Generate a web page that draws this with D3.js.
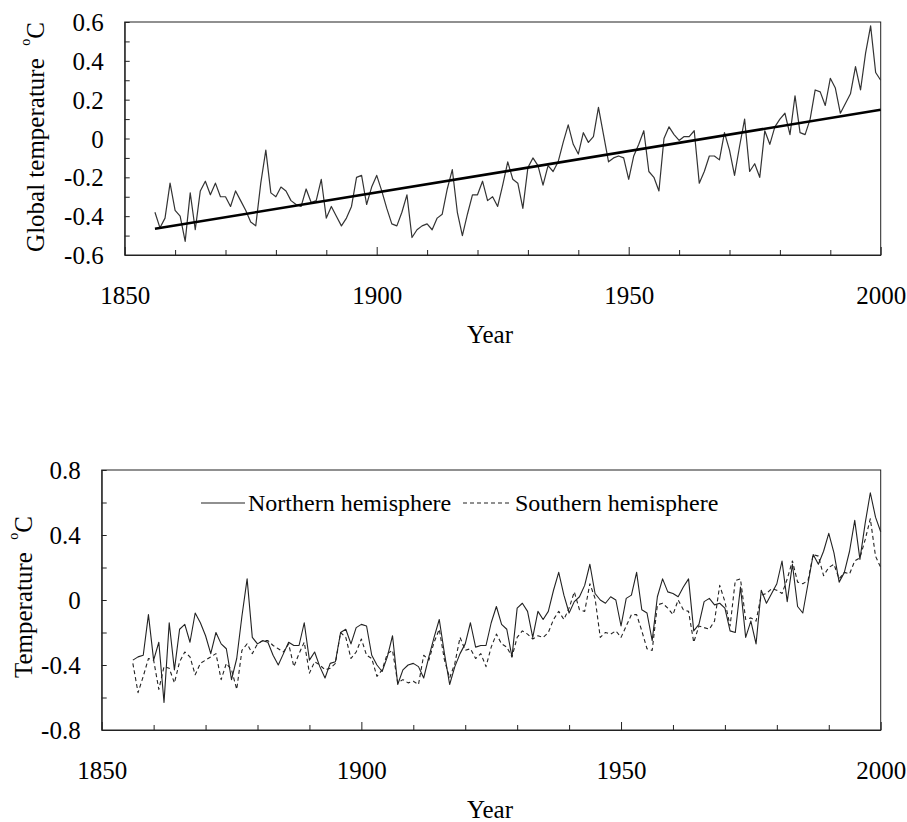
<!DOCTYPE html>
<html>
<head>
<meta charset="utf-8">
<script src="https://cdn.jsdelivr.net/npm/d3@7"></script>
<style>
  body { margin: 0; background: #fff; }
  svg { display: block; }
  svg text { font-family: "Liberation Serif", "Times New Roman", serif !important; fill: #000; }
</style>
</head>
<body>
<div id="chart"></div>
<script>
// annual anomalies, 1856..2000
var firstYear = 1856;

var globalTemp = [
  -0.38, -0.46, -0.41, -0.23, -0.37, -0.40, -0.53, -0.28, -0.47, -0.27,
  -0.22, -0.29, -0.23, -0.30, -0.30, -0.35, -0.27, -0.32, -0.37, -0.43,
  -0.45, -0.23, -0.06, -0.28, -0.30, -0.25, -0.27, -0.32, -0.34, -0.35,
  -0.26, -0.33, -0.32, -0.21, -0.41, -0.35, -0.40, -0.45, -0.41, -0.35,
  -0.20, -0.19, -0.34, -0.25, -0.19, -0.27, -0.36, -0.44, -0.45, -0.38,
  -0.29, -0.51, -0.47, -0.45, -0.44, -0.47, -0.41, -0.39, -0.26, -0.16,
  -0.38, -0.50, -0.39, -0.29, -0.29, -0.22, -0.32, -0.30, -0.35, -0.24,
  -0.12, -0.21, -0.23, -0.36, -0.15, -0.10, -0.14, -0.24, -0.14, -0.17,
  -0.12, -0.02, 0.07, -0.03, -0.08, 0.03, -0.02, 0.01, 0.16, 0.02,
  -0.12, -0.10, -0.09, -0.10, -0.21, -0.09, -0.03, 0.04, -0.17, -0.20,
  -0.27, 0.00, 0.06, 0.02, -0.01, 0.01, 0.01, 0.04, -0.23, -0.17,
  -0.09, -0.09, -0.11, 0.03, -0.06, -0.19, -0.04, 0.10, -0.17, -0.13,
  -0.20, 0.04, -0.03, 0.06, 0.10, 0.13, 0.02, 0.22, 0.03, 0.02,
  0.10, 0.25, 0.24, 0.17, 0.31, 0.26, 0.13, 0.18, 0.23, 0.37,
  0.25, 0.44, 0.58, 0.34, 0.30
];

var trendYears = [1856, 2000];
var trendTemp = [-0.465, 0.148];

var northTemp = [
  -0.37, -0.35, -0.34, -0.09, -0.37, -0.26, -0.63, -0.14, -0.43, -0.18,
  -0.15, -0.26, -0.08, -0.14, -0.22, -0.33, -0.20, -0.27, -0.30, -0.49,
  -0.36, -0.10, 0.13, -0.23, -0.27, -0.25, -0.26, -0.34, -0.40, -0.33,
  -0.26, -0.28, -0.28, -0.14, -0.37, -0.32, -0.41, -0.48, -0.39, -0.38,
  -0.20, -0.18, -0.27, -0.17, -0.15, -0.16, -0.34, -0.40, -0.44, -0.35,
  -0.22, -0.52, -0.43, -0.40, -0.39, -0.41, -0.48, -0.35, -0.23, -0.12,
  -0.33, -0.52, -0.41, -0.33, -0.27, -0.14, -0.29, -0.28, -0.28, -0.14,
  -0.04, -0.15, -0.18, -0.35, -0.05, -0.02, -0.07, -0.23, -0.07, -0.12,
  -0.07, 0.06, 0.17, 0.03, -0.08, -0.01, 0.02, 0.09, 0.22, 0.04,
  0.00, -0.02, 0.02, 0.00, -0.16, 0.01, 0.03, 0.17, -0.06, -0.08,
  -0.25, 0.02, 0.13, 0.05, 0.04, 0.02, 0.08, 0.13, -0.19, -0.15,
  -0.01, 0.01, -0.03, -0.02, -0.05, -0.19, -0.20, 0.08, -0.23, -0.13,
  -0.27, 0.06, -0.02, 0.04, 0.10, 0.24, -0.01, 0.22, -0.04, -0.08,
  0.10, 0.28, 0.22, 0.30, 0.41, 0.29, 0.11, 0.17, 0.30, 0.49,
  0.25, 0.47, 0.66, 0.51, 0.42
];

var southTemp = [
  -0.39, -0.57, -0.47, -0.36, -0.37, -0.55, -0.41, -0.42, -0.51, -0.38,
  -0.32, -0.35, -0.46, -0.39, -0.37, -0.35, -0.33, -0.49, -0.39, -0.43,
  -0.55, -0.31, -0.27, -0.33, -0.27, -0.25, -0.25, -0.28, -0.30, -0.32,
  -0.27, -0.41, -0.33, -0.26, -0.45, -0.38, -0.40, -0.43, -0.42, -0.39,
  -0.20, -0.23, -0.36, -0.32, -0.24, -0.34, -0.36, -0.47, -0.43, -0.33,
  -0.31, -0.51, -0.49, -0.51, -0.50, -0.52, -0.34, -0.37, -0.26, -0.18,
  -0.37, -0.48, -0.39, -0.23, -0.31, -0.30, -0.36, -0.33, -0.41, -0.29,
  -0.21, -0.27, -0.29, -0.35, -0.23, -0.19, -0.21, -0.24, -0.22, -0.23,
  -0.20, -0.12, -0.07, -0.12, -0.05, 0.05, -0.06, -0.07, 0.10, 0.01,
  -0.23, -0.20, -0.21, -0.19, -0.23, -0.16, -0.09, -0.09, -0.19, -0.30,
  -0.31, -0.03, -0.02, -0.05, -0.09, 0.00, -0.06, -0.07, -0.26, -0.16,
  -0.17, -0.18, -0.13, 0.09, -0.01, -0.16, 0.12, 0.13, -0.12, -0.11,
  -0.13, 0.03, 0.04, 0.07, 0.06, 0.04, 0.13, 0.24, 0.11, 0.10,
  0.12, 0.28, 0.27, 0.15, 0.20, 0.22, 0.13, 0.17, 0.16, 0.24,
  0.26, 0.37, 0.50, 0.27, 0.20
];

var yearTicks = [1850, 1900, 1950, 2000];
var yearMinorTicks = [1860, 1870, 1880, 1890, 1910, 1920, 1930, 1940, 1960, 1970, 1980, 1990];
var topTicks = [-0.6, -0.4, -0.2, 0, 0.2, 0.4, 0.6];
var topMinorTicks = [-0.5, -0.3, -0.1, 0.1, 0.3, 0.5];
var bottomTicks = [-0.8, -0.4, 0, 0.4, 0.8];
var bottomMinorTicks = [-0.6, -0.2, 0.2, 0.6];

var width = 907, height = 822;
var fontSize = 25;
var legendFontSize = 24;
var serif = "'Liberation Serif', 'Times New Roman', serif";

var svg = d3.select("#chart").append("svg")
    .attr("width", width)
    .attr("height", height);

function asPoints(values) {
    return values.map(function (v, i) { return { year: firstYear + i, value: v }; });
}

function fmt(d) {
    return d === 0 ? "0" : d3.format(".1f")(d).replace("\u2212", "-");
}

function drawPanel(p) {
    var x = d3.scaleLinear().domain([1850, 2000]).range([p.left, p.right]);
    var y = d3.scaleLinear().domain(p.yDomain).range([p.bottom, p.top]);

    var g = svg.append("g");

    // minor ticks first, no labels
    g.append("g")
        .attr("transform", "translate(0," + p.bottom + ")")
        .call(d3.axisBottom(x).tickValues(yearMinorTicks).tickSizeInner(-5).tickSizeOuter(0).tickFormat(""))
        .call(function (a) { a.select(".domain").remove(); });

    var xAxis = g.append("g")
        .attr("transform", "translate(0," + p.bottom + ")")
        .call(d3.axisBottom(x).tickValues(yearTicks).tickSizeInner(-8).tickSizeOuter(0)
            .tickPadding(31).tickFormat(d3.format("d")));

    g.append("g")
        .attr("transform", "translate(" + p.left + ",0)")
        .call(d3.axisLeft(y).tickValues(p.minorTicks).tickSizeInner(-5).tickSizeOuter(0).tickFormat(""))
        .call(function (a) { a.select(".domain").remove(); });

    var yAxis = g.append("g")
        .attr("transform", "translate(" + p.left + ",0)")
        .call(d3.axisLeft(y).tickValues(p.ticks).tickSizeInner(-5).tickSizeOuter(0)
            .tickPadding(21).tickFormat(fmt));

    g.selectAll(".tick line").attr("stroke", "#222");
    g.selectAll(".domain").attr("stroke", "#222");
    [xAxis, yAxis].forEach(function (a) {
        a.attr("font-family", null).attr("font-size", null);
        a.selectAll("text")
            .style("font-family", serif)
            .style("font-size", fontSize + "px")
            .attr("fill", "#000");
    });
    yAxis.selectAll("text").attr("dy", "0.34em");

    // frame
    g.append("rect")
        .attr("x", p.left).attr("y", p.top)
        .attr("width", p.right - p.left).attr("height", p.bottom - p.top)
        .attr("fill", "none").attr("stroke", "#222").attr("stroke-width", 1);

    var line = d3.line()
        .x(function (d) { return x(d.year); })
        .y(function (d) { return y(d.value); });

    p.series.forEach(function (s) {
        g.append("path")
            .datum(s.data)
            .attr("fill", "none")
            .attr("stroke", s.color)
            .attr("stroke-width", s.width)
            .attr("stroke-dasharray", s.dash || null)
            .attr("stroke-linejoin", "round")
            .attr("d", line);
    });

    // x title
    g.append("text")
        .attr("x", 490).attr("y", p.bottom + 88)
        .attr("text-anchor", "middle")
        .style("font-size", fontSize + "px")
        .text("Year");

    // y title with superscript degree
    var yt = g.append("text")
        .attr("transform", "translate(" + p.titleX + "," + p.titleY + ") rotate(-90)")
        .attr("text-anchor", "middle")
        .style("font-size", fontSize + "px");
    yt.append("tspan").text(p.yTitle + "\u00a0\u00a0");
    yt.append("tspan").style("font-size", "14px").attr("dy", -14).text("o");
    yt.append("tspan").attr("dy", 14).text("C");

    return { x: x, y: y, g: g };
}

drawPanel({
    left: 124.7, right: 880.7, top: 22, bottom: 255,
    yDomain: [-0.6, 0.6], ticks: topTicks, minorTicks: topMinorTicks,
    yTitle: "Global temperature", titleX: 44, titleY: 137,
    series: [
        { data: asPoints(globalTemp), color: "#333", width: 1.2 },
        { data: trendYears.map(function (yr, i) { return { year: yr, value: trendTemp[i] }; }),
          color: "#000", width: 2.6 }
    ]
});

var bottomPanel = drawPanel({
    left: 101.7, right: 880.7, top: 470, bottom: 730,
    yDomain: [-0.8, 0.8], ticks: bottomTicks, minorTicks: bottomMinorTicks,
    yTitle: "Temperature", titleX: 32, titleY: 597,
    series: [
        { data: asPoints(northTemp), color: "#222", width: 1.1 },
        { data: asPoints(southTemp), color: "#222", width: 1.1, dash: "4,3" }
    ]
});

// legend
var legendItems = [
    { label: "Northern hemisphere", x1: 201, x2: 245, dash: null },
    { label: "Southern hemisphere", x1: 463, x2: 512, dash: "4,3" }
];
var legend = bottomPanel.g.append("g");
legendItems.forEach(function (item) {
    legend.append("line")
        .attr("x1", item.x1).attr("x2", item.x2)
        .attr("y1", 503).attr("y2", 503)
        .attr("stroke", "#222").attr("stroke-width", 1.1)
        .attr("stroke-dasharray", item.dash);
    legend.append("text")
        .attr("x", item.x2 + 3).attr("y", 503)
        .attr("dy", "0.35em")
        .style("font-size", legendFontSize + "px")
        .text(item.label);
});
</script>
</body>
</html>
